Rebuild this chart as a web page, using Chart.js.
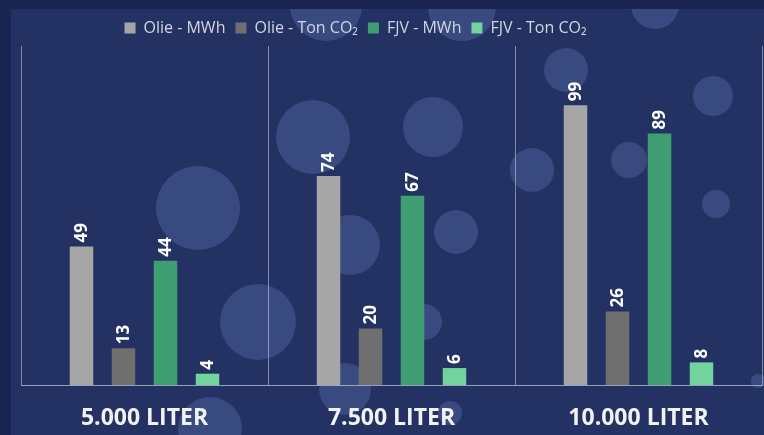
<!DOCTYPE html>
<html>
<head>
<meta charset="utf-8">
<script src="https://cdn.jsdelivr.net/npm/chart.js@4"></script>
<style>
  html, body { margin: 0; padding: 0; background: #1a2450; }
  #wrap { position: absolute; left: 11px; top: 9px; width: 753px; height: 426px; background: #233163; }
</style>
</head>
<body>
<div id="wrap"><canvas id="chart"></canvas></div>
<script>
// kategorier og serier
const categories = ['5.000 LITER', '7.500 LITER', '10.000 LITER'];
const olieMWh = [49, 74, 99];
const olieCO2 = [13, 20, 26];
const fjvMWh = [44, 67, 89];
const fjvCO2 = [4, 6, 8];
const seriesNames = ['Olie - MWh', 'Olie - Ton CO\u2082', 'FJV - MWh', 'FJV - Ton CO\u2082'];
const seriesColors = ['#a6a6a6', '#6f6f6f', '#3f9e72', '#72d39c'];

// dekorative bobler i baggrunden (ikke data)
const bubbles = [
  [315, -4, 36], [451, -2, 34], [644, -4, 24], [187, 199, 42], [247, 313, 38],
  [302, 128, 37], [339, 236, 30], [422, 118, 30], [445, 223, 22], [413, 313, 18],
  [334, 380, 26], [439, 404, 12], [555, 61, 22], [521, 161, 22], [618, 151, 18],
  [702, 87, 20], [705, 195, 14], [199, 420, 32], [747, 372, 7]
];

const bubblePlugin = {
  id: 'bubbles',
  beforeDraw(chart) {
    const ctx = chart.ctx;
    ctx.save();
    ctx.fillStyle = 'rgba(110, 140, 205, 0.28)';
    bubbles.forEach(b => {
      ctx.beginPath();
      ctx.arc(b[0], b[1], b[2], 0, Math.PI * 2);
      ctx.fill();
    });
    ctx.restore();
  }
};

// forklaringen sidder lidt til venstre for midten
const legendShift = {
  id: 'legendShift',
  afterLayout(chart) {
    if (chart.legend) {
      chart.legend.left -= 36;
      chart.legend.right -= 36;
    }
  }
};

// lodrette værdietiketter over søjlerne
const valueLabels = {
  id: 'valueLabels',
  afterDatasetsDraw(chart) {
    const ctx = chart.ctx;
    ctx.save();
    ctx.fillStyle = '#ffffff';
    ctx.font = 'bold 17px "Open Sans"';
    ctx.textAlign = 'left';
    ctx.textBaseline = 'middle';
    chart.data.datasets.forEach((ds, i) => {
      chart.getDatasetMeta(i).data.forEach((el, j) => {
        ctx.save();
        ctx.translate(el.x + 1, el.y - 4);
        ctx.rotate(-Math.PI / 2);
        ctx.fillText(String(ds.data[j]), 0, 0);
        ctx.restore();
      });
    });
    ctx.restore();
  }
};

const allSeries = [olieMWh, olieCO2, fjvMWh, fjvCO2];

new Chart(document.getElementById('chart'), {
  type: 'bar',
  data: {
    labels: categories,
    datasets: allSeries.map((d, i) => ({
      label: seriesNames[i],
      data: d,
      backgroundColor: seriesColors[i],
      borderWidth: 0,
      categoryPercentage: 0.68,
      barPercentage: 0.56
    }))
  },
  options: {
    responsive: true,
    maintainAspectRatio: false,
    animation: false,
    layout: { padding: { left: 10, right: 2, top: 1, bottom: 0 } },
    plugins: {
      tooltip: { enabled: false },
      legend: {
        position: 'top',
        labels: {
          color: '#d4d6de',
          font: { family: 'Open Sans', size: 16 },
          boxWidth: 11,
          boxHeight: 11,
          padding: 10
        }
      }
    },
    scales: {
      x: {
        afterFit(scale) { scale.height = 50; },
        grid: { color: 'rgba(190, 198, 222, 0.6)', lineWidth: 1, drawTicks: false },
        border: { color: 'rgba(190, 198, 222, 0.75)' },
        ticks: {
          color: '#f2f2f2',
          padding: 20,
          font: { family: 'Open Sans', size: 23, weight: 'bold' }
        }
      },
      y: {
        display: false,
        min: 0,
        max: 120
      }
    }
  },
  plugins: [bubblePlugin, legendShift, valueLabels]
});
</script>
</body>
</html>
